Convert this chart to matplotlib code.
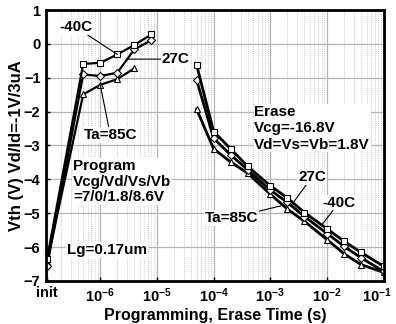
import numpy as np
import matplotlib.pyplot as plt
import matplotlib.transforms as mtransforms
from matplotlib.ticker import LogLocator, NullFormatter

plt.rcParams['font.family'] = ['Liberation Sans', 'DejaVu Sans']
plt.rcParams['mathtext.fontset'] = 'custom'
plt.rcParams['mathtext.rm'] = 'Liberation Sans'
plt.rcParams['mathtext.bf'] = 'Liberation Sans:bold'

# "init" is placed at the left edge of the log axis
t_init = 1.15e-7

# programming
t_prog = [t_init, 5e-7, 1e-6, 2e-6, 4e-6, 8e-6]
prog_m40 = [-6.35, -0.59, -0.56, -0.31, -0.03, 0.28]
prog_27 = [-6.57, -0.90, -0.95, -0.85, -0.16, 0.11]
t_prog_85 = [t_init, 5e-7, 1e-6, 2e-6, 4e-6]
prog_85 = [-6.45, -1.49, -1.21, -1.04, -0.72]

# erase
t_erase = [5e-5, 1e-4, 2e-4, 4e-4, 1e-3, 2e-3, 4e-3, 1e-2, 2e-2, 4e-2, 1e-1]
erase_m40 = [-0.62, -2.59, -3.10, -3.62, -4.19, -4.55, -4.98, -5.46, -5.83, -6.16, -6.57]
erase_27 = [-1.06, -2.79, -3.28, -3.72, -4.32, -4.68, -5.10, -5.60, -5.98, -6.32, -6.72]
erase_85 = [-1.93, -3.10, -3.49, -3.82, -4.44, -4.88, -5.24, -5.78, -6.20, -6.52, -6.75]

xticks = [t_init, 1e-6, 1e-5, 1e-4, 1e-3, 1e-2, 1e-1]
xticklabels = ['init'] + [r'$\mathbf{10^{%d}}$' % p for p in range(-6, 0)]

fig = plt.figure(figsize=(3.96, 3.24), dpi=100)
ax = fig.add_axes([0.116, 0.133, 0.853, 0.836])

mk = dict(color='black', mfc='white', mec='black', mew=0.8, ms=5)
ax.plot(t_prog_85, prog_85, marker='^', lw=1.6, **mk)
ax.plot(t_prog, prog_27, marker='D', lw=1.6, **dict(mk, ms=4))
ax.plot(t_prog, prog_m40, marker='s', lw=1.6, **mk)
ax.plot(t_erase, erase_85, marker='^', lw=2.0, **mk)
ax.plot(t_erase, erase_27, marker='D', lw=2.0, **dict(mk, ms=4))
ax.plot(t_erase, erase_m40, marker='s', lw=2.0, **mk)

ax.set_xscale('log')
ax.set_xlim(1.1e-7, 1e-1)
ax.set_ylim(-7, 1)
ax.set_yticks(range(-7, 2))
ax.set_xticks(xticks)
ax.set_xticklabels(xticklabels)
ax.xaxis.set_minor_locator(LogLocator(base=10, subs=np.arange(2, 10), numticks=20))
ax.xaxis.set_minor_formatter(NullFormatter())
ax.tick_params(direction='in', length=3, width=1, labelsize=10.5, pad=4)
ax.tick_params(which='minor', length=0)
for lab in ax.get_yticklabels() + ax.get_xticklabels():
    lab.set_fontweight('bold')
# keep the last decade label inside the figure
last = ax.get_xticklabels()[-1]
last.set_transform(last.get_transform() +
                   mtransforms.ScaledTranslation(-5 / 72, 0, fig.dpi_scale_trans))

ax.grid(True, which='major', color='#b4b4b4', lw=0.9)
ax.grid(True, which='minor', axis='x', color='#cfcfcf', lw=0.7, ls=(0, (1, 1)))
ax.set_axisbelow(True)
for s in ax.spines.values():
    s.set_linewidth(2)

ax.set_xlabel('Programming, Erase Time (s)', fontsize=11.5, fontweight='bold', labelpad=2)
ax.set_ylabel('Vth (V) Vd/Id=-1V/3uA', fontsize=12, fontweight='bold', labelpad=0)

box = dict(facecolor='white', edgecolor='none', pad=0.5)
arr = dict(arrowstyle='-', color='black', lw=0.8, shrinkA=0, shrinkB=0)
tkw = dict(fontsize=11, fontweight='bold', ha='center', va='center', bbox=box)

ax.annotate('-40C', xy=(2e-6, -0.31), xytext=(3.65e-7, 0.50), arrowprops=arr, **tkw)
ax.annotate('27C', xy=(3.1e-6, -0.45), xytext=(2.15e-5, -0.45), arrowprops=arr, **tkw)
ax.annotate('Ta=85C', xy=(1e-6, -1.21), xytext=(1.5e-6, -2.69), arrowprops=arr, **tkw)
ax.annotate('27C', xy=(2.3e-3, -4.78), xytext=(5.46e-3, -3.93), arrowprops=arr, **tkw)
ax.annotate('-40C', xy=(7.9e-3, -5.37), xytext=(1.62e-2, -4.69), arrowprops=arr, **tkw)
ax.annotate('Ta=85C', xy=(1.56e-3, -4.78), xytext=(2.07e-4, -5.14), arrowprops=arr, **tkw)

ax.text(0.080, 0.450, 'Program\nVcg/Vd/Vs/Vb\n=7/0/1.8/8.6V', transform=ax.transAxes,
        fontsize=11, fontweight='bold', ha='left', va='top', linespacing=1.15, bbox=box)
ax.text(0.617, 0.649, 'Erase\nVcg=-16.8V\nVd=Vs=Vb=1.8V', transform=ax.transAxes,
        fontsize=11, fontweight='bold', ha='left', va='top', linespacing=1.2, bbox=box)
ax.text(0.062, 0.114, 'Lg=0.17um', transform=ax.transAxes,
        fontsize=11, fontweight='bold', ha='left', va='center', bbox=box)

fig.savefig('out.png', dpi=100)
